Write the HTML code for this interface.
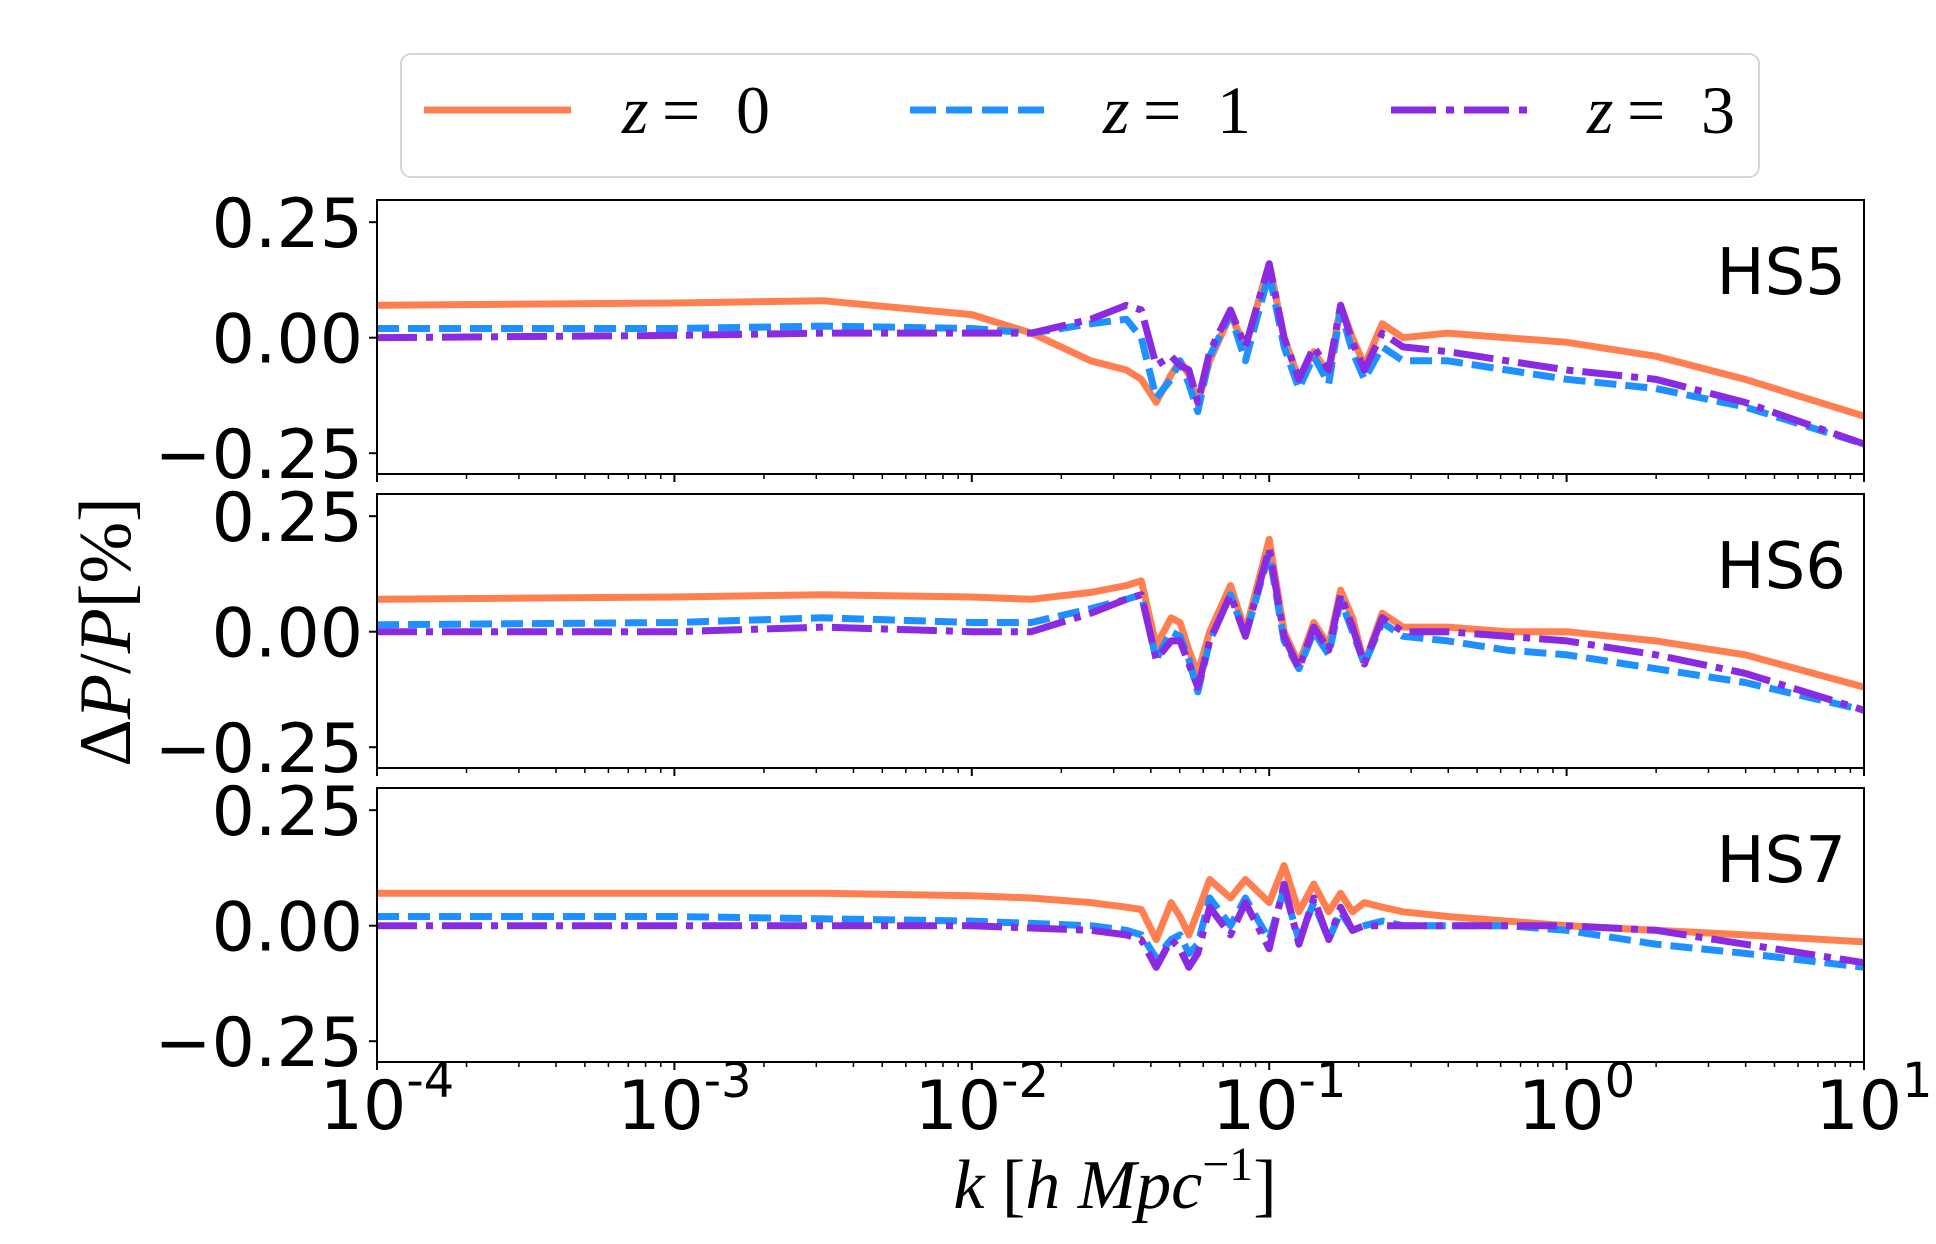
<!DOCTYPE html>
<html><head><meta charset="utf-8"><style>
html,body{margin:0;padding:0;background:#fff;}
svg{display:block;}
</style></head><body>
<svg id="chart" xmlns="http://www.w3.org/2000/svg" width="1936" height="1244" viewBox="0 0 1936 1244">
<rect width="1936" height="1244" fill="#fff"/>
<g>
<rect x="401" y="54" width="1358" height="123" rx="10" fill="#fff" stroke="#d6d6d6" stroke-width="2"/>
<line x1="424" y1="110" x2="571" y2="110" stroke="#ff7f50" stroke-width="7"/>
<text x="622" y="133" font-family="Liberation Serif, serif" font-size="68"><tspan font-style="italic">z</tspan><tspan x="662">=</tspan><tspan x="736">0</tspan></text>
<line x1="910" y1="110" x2="1046" y2="110" stroke="#1e90ff" stroke-width="7" stroke-dasharray="26,10"/>
<text x="1103" y="133" font-family="Liberation Serif, serif" font-size="68"><tspan font-style="italic">z</tspan><tspan x="1143">=</tspan><tspan x="1217">1</tspan></text>
<line x1="1391" y1="110" x2="1527" y2="110" stroke="#8a2be2" stroke-width="7" stroke-dasharray="45,10,8,10"/>
<text x="1587" y="133" font-family="Liberation Serif, serif" font-size="68"><tspan font-style="italic">z</tspan><tspan x="1627">=</tspan><tspan x="1701">3</tspan></text>
</g>
<g id="panels"></g>
<text transform="translate(130,632) rotate(-90)" text-anchor="middle" font-family="Liberation Serif, serif" font-size="74">Δ<tspan font-style="italic">P</tspan>/<tspan font-style="italic">P</tspan>[%]</text>
<text x="1115" y="1208" text-anchor="middle" font-family="Liberation Serif, serif" font-size="70"><tspan font-style="italic">k</tspan> [<tspan font-style="italic">h Mpc</tspan><tspan dy="-28" font-size="48">−1</tspan><tspan dy="28">]</tspan></text>
</svg>
<script>
const logK = [-4,-3,-2.5,-2,-1.8,-1.6,-1.48,-1.43,-1.38,-1.33,-1.3,-1.27,-1.24,-1.2,-1.13,-1.08,-1,-0.95,-0.9,-0.85,-0.8,-0.76,-0.72,-0.68,-0.62,-0.55,-0.4,-0.2,0,0.3,0.6,1];
const panelNames = ["HS5","HS6","HS7"];
const hs5_z0 = [0.07,0.075,0.08,0.05,0.01,-0.05,-0.07,-0.09,-0.14,-0.08,-0.05,-0.08,-0.14,-0.05,0.05,-0.02,0.16,0.0,-0.09,-0.03,-0.08,0.07,0.0,-0.06,0.03,0.0,0.01,0.0,-0.01,-0.04,-0.09,-0.17];
const hs5_z1 = [0.02,0.02,0.025,0.02,0.01,0.03,0.04,0.0,-0.13,-0.09,-0.05,-0.10,-0.16,-0.04,0.05,-0.05,0.14,-0.02,-0.11,-0.04,-0.10,0.06,-0.03,-0.09,-0.02,-0.05,-0.05,-0.07,-0.09,-0.11,-0.15,-0.23];
const hs5_z3 = [0.0,0.005,0.01,0.01,0.01,0.04,0.07,0.06,-0.06,-0.04,-0.06,-0.07,-0.14,-0.03,0.06,-0.02,0.16,0.0,-0.09,-0.02,-0.07,0.07,-0.01,-0.07,0.01,-0.02,-0.03,-0.05,-0.07,-0.09,-0.14,-0.23];
const hs6_z0 = [0.07,0.075,0.08,0.075,0.07,0.085,0.1,0.11,-0.03,0.03,0.02,-0.04,-0.09,0.0,0.1,0.0,0.2,0.0,-0.07,0.02,-0.03,0.09,0.03,-0.07,0.04,0.01,0.01,0.0,0.0,-0.02,-0.05,-0.12];
const hs6_z1 = [0.015,0.02,0.03,0.02,0.02,0.05,0.07,0.08,-0.06,0.0,-0.01,-0.06,-0.13,-0.02,0.08,-0.01,0.17,-0.02,-0.08,0.0,-0.05,0.07,0.0,-0.07,0.02,-0.01,-0.02,-0.04,-0.05,-0.08,-0.11,-0.17];
const hs6_z3 = [0.0,0.0,0.01,0.0,0.0,0.04,0.07,0.08,-0.06,-0.02,-0.02,-0.07,-0.12,-0.02,0.08,-0.01,0.18,-0.01,-0.08,0.01,-0.04,0.08,0.01,-0.07,0.03,0.0,0.0,-0.01,-0.02,-0.05,-0.09,-0.17];
const hs7_z0 = [0.07,0.07,0.07,0.065,0.06,0.05,0.04,0.035,-0.03,0.05,0.02,-0.02,0.03,0.1,0.06,0.1,0.05,0.13,0.03,0.09,0.03,0.07,0.03,0.05,0.04,0.03,0.02,0.01,0.0,-0.01,-0.02,-0.035];
const hs7_z1 = [0.02,0.02,0.015,0.01,0.005,0.0,-0.01,-0.02,-0.07,-0.03,-0.02,-0.06,-0.04,0.06,0.0,0.06,-0.03,0.08,-0.03,0.05,-0.03,0.03,-0.01,0.0,0.01,0.0,0.0,0.0,-0.01,-0.04,-0.06,-0.09];
const hs7_z3 = [0.0,0.0,0.0,0.0,-0.005,-0.01,-0.02,-0.03,-0.09,-0.03,-0.05,-0.09,-0.06,0.04,-0.02,0.05,-0.05,0.09,-0.04,0.06,-0.03,0.04,-0.01,0.0,0.0,0.0,0.0,0.0,0.0,-0.01,-0.04,-0.08];
const yTicks = [0.25,0.0,-0.25];
const yTickLabels = ["0.25","0.00","\u22120.25"];
const xTickExps = [-4,-3,-2,-1,0,1];

const NS="http://www.w3.org/2000/svg";
const X0=377, X1=1864, PH=274, PTOPS=[200,494,788], YMIN=-0.295, YMAX=0.298;
const xScale = lk => X0 + (lk+4)/5*(X1-X0);
const yScaleFor = top => v => top + (YMAX-v)/(YMAX-YMIN)*PH;
const seriesData = [[hs5_z0,hs5_z1,hs5_z3],[hs6_z0,hs6_z1,hs6_z3],[hs7_z0,hs7_z1,hs7_z3]];
const colors=["#ff7f50","#1e90ff","#8a2be2"];
const dashes=["none","22,9","40,9,7,9"];
const zNames=["z0","z1","z3"];
const root=document.getElementById("panels");
function mk(tag,attrs,parent){const e=document.createElementNS(NS,tag);for(const k in attrs)e.setAttribute(k,attrs[k]);parent.appendChild(e);return e;}
PTOPS.forEach((top,pi)=>{
  const ys=yScaleFor(top);
  const g=mk("g",{},root);
  
  
  const clipId="clip"+pi;
  const cp=mk("clipPath",{id:clipId},g);
  mk("rect",{x:X0,y:top,width:X1-X0,height:PH},cp);
  seriesData[pi].forEach((arr,si)=>{
    const d=arr.map((v,i)=>(i?"L":"M")+xScale(logK[i]).toFixed(1)+","+ys(v).toFixed(1)).join("");
    const p=mk("path",{d:d,fill:"none",stroke:colors[si],"stroke-width":7,"stroke-linejoin":"round","clip-path":"url(#"+clipId+")"},g);
    if(dashes[si]!=="none")p.setAttribute("stroke-dasharray",dashes[si]);
    
    
  });
  const fr=mk("rect",{x:X0,y:top,width:X1-X0,height:PH,fill:"none",stroke:"#000","stroke-width":2},g);
  
  
  yTicks.forEach((t,ti)=>{
    const y=ys(t);
    mk("line",{x1:X0-8,y1:y,x2:X0,y2:y,stroke:"#000","stroke-width":2},g);
    const tx=mk("text",{x:X0-14,y:y+25,"text-anchor":"end","font-family":"DejaVu Sans, Liberation Sans, sans-serif","font-size":68},g);
    tx.textContent=yTickLabels[ti];
    
    
  });
  const bot=top+PH;
  for(let e=-4;e<=1;e++){
    const x=xScale(e);
    mk("line",{x1:x,y1:bot,x2:x,y2:bot+8,stroke:"#000","stroke-width":2},g);
    if(e<1)for(let m=2;m<=9;m++){const xm=xScale(e+Math.log10(m));mk("line",{x1:xm,y1:bot,x2:xm,y2:bot+5,stroke:"#000","stroke-width":1.5},g);}
  }
  const lb=mk("text",{x:X1-18,y:top+94,"text-anchor":"end","font-family":"DejaVu Sans, Liberation Sans, sans-serif","font-size":64},g);
  lb.textContent=panelNames[pi];
  
  
});
xTickExps.forEach(e=>{
  const x=xScale(e);
  const t=mk("text",{x:x+10,y:1129,"text-anchor":"middle","font-family":"DejaVu Sans, Liberation Sans, sans-serif","font-size":68},root);
  
  
  const a=document.createElementNS(NS,"tspan");a.textContent="10";t.appendChild(a);
  const b=document.createElementNS(NS,"tspan");b.setAttribute("dy","-32");b.setAttribute("font-size","48");b.textContent=(e<0?"-":"")+Math.abs(e);t.appendChild(b);
});
</script>
</body></html>
